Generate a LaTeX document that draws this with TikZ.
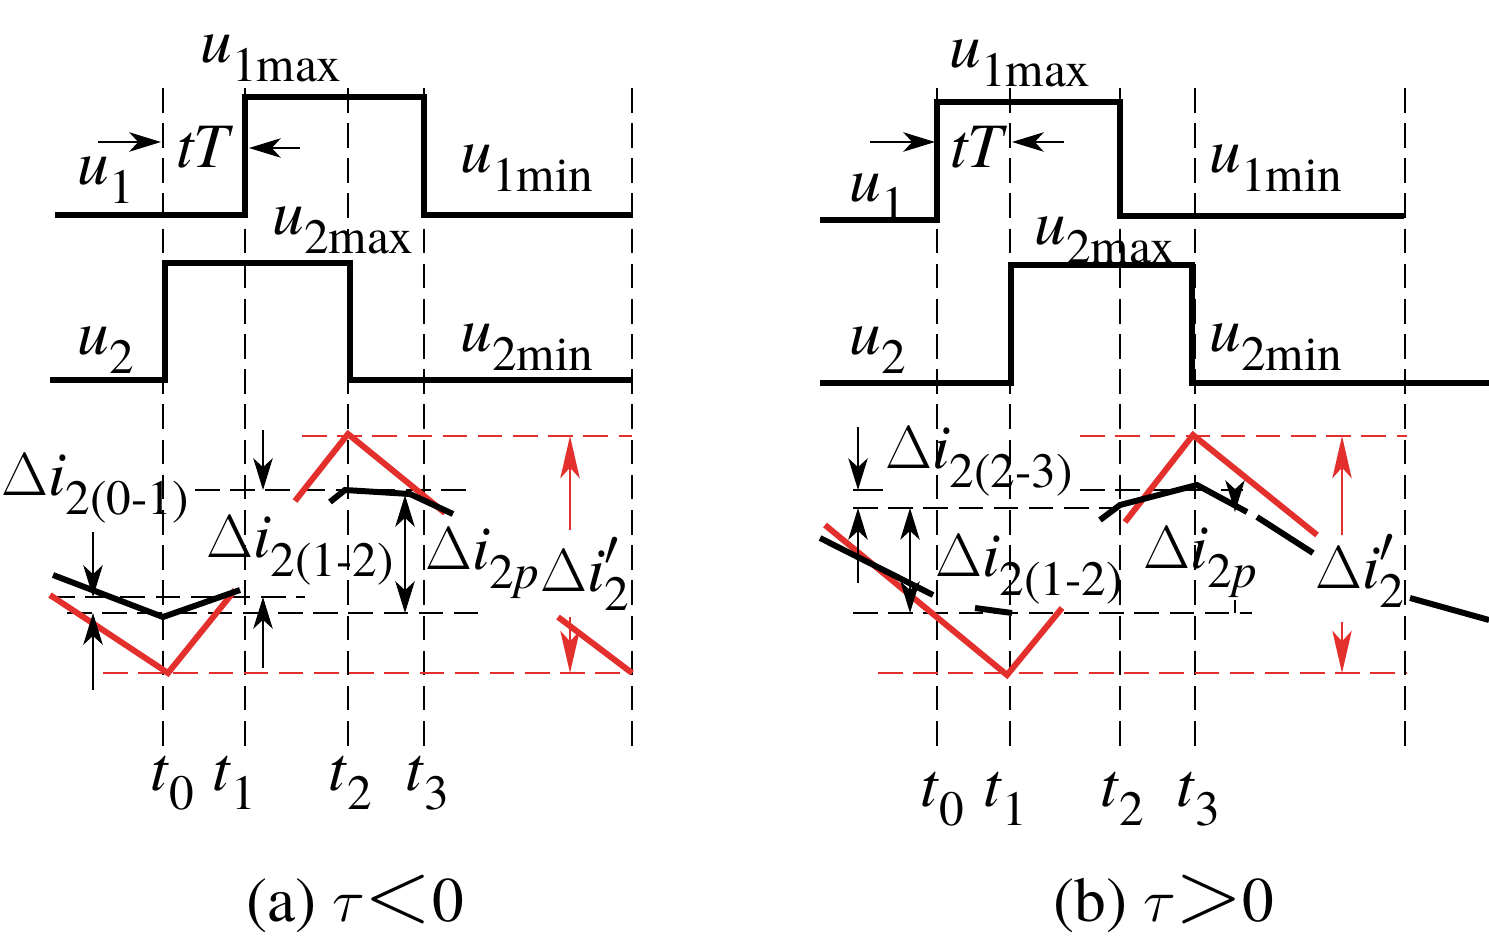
\documentclass[tikz,border=0pt]{standalone}
\usepackage{fontspec}
\setmainfont{texgyretermes}[Extension=.otf, UprightFont=*-regular, ItalicFont=*-italic, BoldFont=*-bold]
\usetikzlibrary{arrows.meta}
\definecolor{cred}{RGB}{228,48,44}

% subscript, value labels
\newcommand{\sbs}[1]{\raisebox{-0.3em}{\fontsize{14}{14}\selectfont #1}}
\newcommand{\vl}[2]{\textit{#1}\sbs{#2}}
\newcommand{\dl}[1]{$\Delta$\textit{i}\sbs{#1}}
\newcommand{\dlp}{$\Delta$\textit{i}\rlap{\raisebox{0.42em}{\fontsize{14}{14}\selectfont$\prime$}}\sbs{2}}

\begin{document}
\begin{tikzpicture}[x=0.01cm, y=-0.01cm, font=\rmfamily\fontsize{18}{21}\selectfont,
  wave/.style={line width=1.7pt, line join=miter},
  cur/.style={line width=1.7pt},
  redcur/.style={line width=1.7pt, cred},
  grid/.style={line width=0.7pt, dash pattern=on 7pt off 3pt},
  redgrid/.style={line width=0.7pt, cred, dash pattern=on 7pt off 3pt},
  dim/.style={line width=0.8pt, -{Stealth[length=9pt, width=5.5pt, inset=2.5pt]}},
  dimm/.style={line width=0.8pt, {Stealth[length=9pt, width=5.5pt, inset=2.5pt]}-{Stealth[length=9pt, width=5.5pt, inset=2.5pt]}},
  reddim/.style={line width=0.8pt, cred, -{Stealth[length=12pt, width=5.5pt, inset=3pt]}},
  lab/.style={inner sep=0pt}]
  \useasboundingbox (0,0) rectangle (1489,940);

  % time grid
  \foreach \x in {163,245,348,424,632,937,1010,1120,1195,1405}
    \draw[grid] (\x,88) -- (\x,747);

  % (a) voltages
  \draw[wave] (55,215) -- (245,215) -- (245,97) -- (424,97) -- (424,215) -- (632,215);
  \draw[wave] (50,380) -- (165,380) -- (165,263) -- (350,263) -- (350,380) -- (632,380);
  \draw[dim] (98,142) -- (161,142);
  \draw[dim] (300,148) -- (249,148);

  % (a) levels
  \draw[grid] (195,490) -- (470,490);
  \draw[grid] (50,597) -- (305,597);
  \draw[grid] (67,613) -- (478,613);
  \draw[redgrid] (302,436) -- (632,436);
  \draw[redgrid] (103,673) -- (632,673);

  % (a) currents
  \draw[redcur] (50,595) -- (168,673) -- (235,590);
  \draw[redcur] (295,501) -- (348,434) -- (445,513);
  \draw[redcur] (558,617) -- (632,673);
  \draw[cur] (53,575) -- (163,617) -- (240,590);
  \draw[cur] (330,502) -- (345,490) -- (410,494) -- (453,514);

  % (a) ripple marks
  \draw[dim] (93,532) -- (93,597);
  \draw[dim] (93,690) -- (93,613);
  \draw[dim] (263,430) -- (263,490);
  \draw[dim] (263,668) -- (263,597);
  \draw[dimm] (405,495) -- (405,613);
  \draw[reddim] (570,530) -- (570,436);
  \draw[reddim] (570,617) -- (570,673);

  % (b) voltages
  \draw[wave] (820,220) -- (937,220) -- (937,102) -- (1120,102) -- (1120,216) -- (1404,216);
  \draw[wave] (820,383) -- (1011,383) -- (1011,265) -- (1192,265) -- (1192,383) -- (1489,383);
  \draw[dim] (870,142) -- (935,142);
  \draw[dim] (1064,142) -- (1012,142);

  % (b) levels
  \draw[line width=0.8pt] (853,490) -- (883,490);
  \draw[grid] (1080,490) -- (1243,490);
  \draw[grid] (853,508) -- (1115,508);
  \draw[grid] (853,613) -- (1252,613);
  \draw[redgrid] (1080,436) -- (1407,436);
  \draw[redgrid] (878,673) -- (1407,673);

  % (b) currents
  \draw[redcur] (825,525) -- (1007,675) -- (1062,608);
  \draw[redcur] (1125,522) -- (1193,435) -- (1317,535);
  \draw[cur] (820,538) -- (933,595);
  \draw[cur] (975,608) -- (1012,613);
  \draw[cur] (1100,520) -- (1120,505) -- (1197,485) -- (1247,512);
  \draw[cur] (1257,517) -- (1313,553);
  \draw[cur] (1410,598) -- (1489,620);

  % (b) ripple marks
  \draw[dim] (858,427) -- (858,490);
  \draw[dim] (858,583) -- (858,508);
  \draw[dimm] (910,508) -- (910,613);
  \draw[dim] (1235,490) -- (1235,512);
  \draw[line width=0.8pt] (1235,600) -- (1235,613);
  \draw[reddim] (1342,535) -- (1342,436);
  \draw[reddim] (1342,622) -- (1342,673);

  % labels (a)
  \node[lab] (au1max) at (271,58) {\vl{u}{1max}};
  \node[lab] (atT) at (205,147) {\textit{tT}};
  \node[lab] (au1) at (106,180) {\vl{u}{1}};
  \node[lab] (au1min) at (527,168) {\vl{u}{1min}};
  \node[lab] (au2max) at (343,230) {\vl{u}{2max}};
  \node[lab] (au2) at (106,350) {\vl{u}{2}};
  \node[lab] (au2min) at (527,347) {\vl{u}{2min}};
  \node[lab] (adi01) at (95,489) {\dl{2(0-1)}};
  \node[lab] (adi12) at (300,551) {\dl{2(1-2)}};
  \node[lab] (adip) at (482,563) {\dl{2\textit{p}}};
  \node[lab] (adi2) at (585,574) {\dlp};
  \node[lab] (at0) at (172,783) {\vl{t}{0}};
  \node[lab] (at1) at (234,783) {\vl{t}{1}};
  \node[lab] (at2) at (350,783) {\vl{t}{2}};
  \node[lab] (at3) at (427,783) {\vl{t}{3}};
  \node[lab] (acap) at (355,904) {(a) $\tau$\scalebox{1.45}{$<$}0};

  % labels (b)
  \node[lab] (bu1max) at (1020,63) {\vl{u}{1max}};
  \node[lab] (btT) at (979,147) {\textit{tT}};
  \node[lab] (bu1) at (878,197) {\vl{u}{1}};
  \node[lab] (bu1min) at (1276,168) {\vl{u}{1min}};
  \node[lab] (bu2max) at (1105,240) {\vl{u}{2max}};
  \node[lab] (bu2) at (878,350) {\vl{u}{2}};
  \node[lab] (bu2min) at (1276,347) {\vl{u}{2min}};
  \node[lab] (bdi23) at (979,462) {\dl{2(2-3)}};
  \node[lab] (bdi12) at (1029,570) {\dl{2(1-2)}};
  \node[lab] (bdip) at (1200,562) {\dl{2\textit{p}}};
  \node[lab] (bdi2) at (1360,571) {\dlp};
  \node[lab] (bt0) at (942,799) {\vl{t}{0}};
  \node[lab] (bt1) at (1005,799) {\vl{t}{1}};
  \node[lab] (bt2) at (1122,799) {\vl{t}{2}};
  \node[lab] (bt3) at (1198,799) {\vl{t}{3}};
  \node[lab] (bcap) at (1164,904) {(b) $\tau$\scalebox{1.45}{$>$}0};
\end{tikzpicture}
\end{document}
